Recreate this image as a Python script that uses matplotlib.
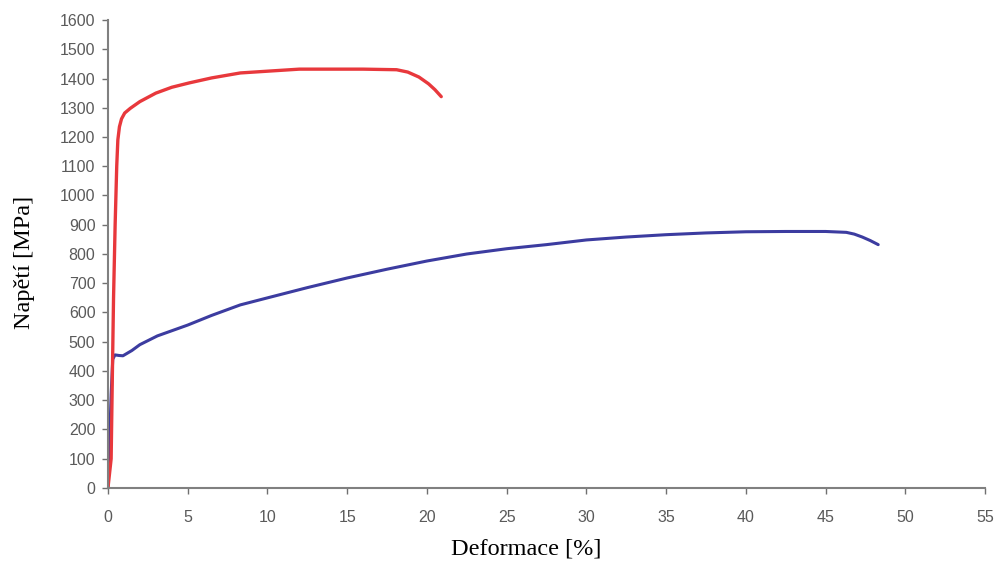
import matplotlib.pyplot as plt

# --- data ---
red_strain = [0.0, 0.2, 0.28, 0.35, 0.45, 0.55, 0.62, 0.72, 0.85, 1.05, 1.4, 2.0, 3.0, 4.0, 5.1, 6.5, 8.3,
              10.0, 12.0, 14.0, 16.0, 18.1, 18.8, 19.5, 20.1, 20.5, 20.9]
red_stress = [0, 100, 400, 650, 900, 1100, 1190, 1235, 1262, 1282, 1298, 1321, 1350, 1370, 1385, 1402, 1419,
              1425, 1432, 1432, 1432, 1430, 1422, 1405, 1382, 1362, 1338]

blue_strain = [0.0, 0.1, 0.2, 0.3, 0.44, 0.7, 0.94, 1.5, 2.0, 3.1, 5.0, 6.5, 8.3, 10.0, 12.5, 15.0, 17.5,
               20.0, 22.5, 25.0, 27.5, 30.0, 32.5, 35.0, 37.5, 40.0, 42.5, 45.0, 46.3, 46.8, 47.3, 47.8, 48.3]
blue_stress = [0, 150, 320, 440, 455, 453, 452, 470, 490, 520, 557, 590, 626, 650, 685, 718, 748,
               776, 800, 818, 832, 848, 858, 866, 872, 876, 877, 877, 874, 868, 858, 846, 832]

x_ticks = list(range(0, 56, 5))
y_ticks = list(range(0, 1601, 100))

fig = plt.figure(figsize=(9.95, 5.62), dpi=100)
ax = fig.add_axes([0.1085, 0.1317, 0.8815, 0.8327])

ax.plot(blue_strain, blue_stress, color="#3c3ca0", lw=2.2, solid_capstyle="round")
ax.plot(red_strain, red_stress, color="#e8383c", lw=2.4, solid_capstyle="round")

ax.set_xlim(0, 55)
ax.set_ylim(0, 1600)
ax.set_xticks(x_ticks)
ax.set_yticks(y_ticks)

tick_font = {"family": ["Liberation Sans", "DejaVu Sans"], "size": 11.5}
ax.set_xticklabels([str(t) for t in x_ticks], fontdict=tick_font, color="#5a5a5a")
ax.set_yticklabels([str(t) for t in y_ticks], fontdict=tick_font, color="#5a5a5a")
ax.tick_params(axis="x", direction="out", length=4, width=1, color="#707070", pad=12)
ax.tick_params(axis="y", direction="out", length=4, width=1, color="#707070", pad=5)

for side in ["top", "right"]:
    ax.spines[side].set_visible(False)
for side in ["left", "bottom"]:
    ax.spines[side].set_color("#808080")
    ax.spines[side].set_linewidth(1.5)

label_font = {"family": ["Liberation Serif", "DejaVu Serif"], "size": 17.5}
ax.set_xlabel("Deformace [%]", fontdict=label_font)
ax.set_ylabel("Napětí [MPa]", fontdict=label_font)
ax.xaxis.set_label_coords(0.477, -0.108)
ax.yaxis.set_label_coords(-0.083, 0.483)

fig.savefig("out.png", dpi=100)
